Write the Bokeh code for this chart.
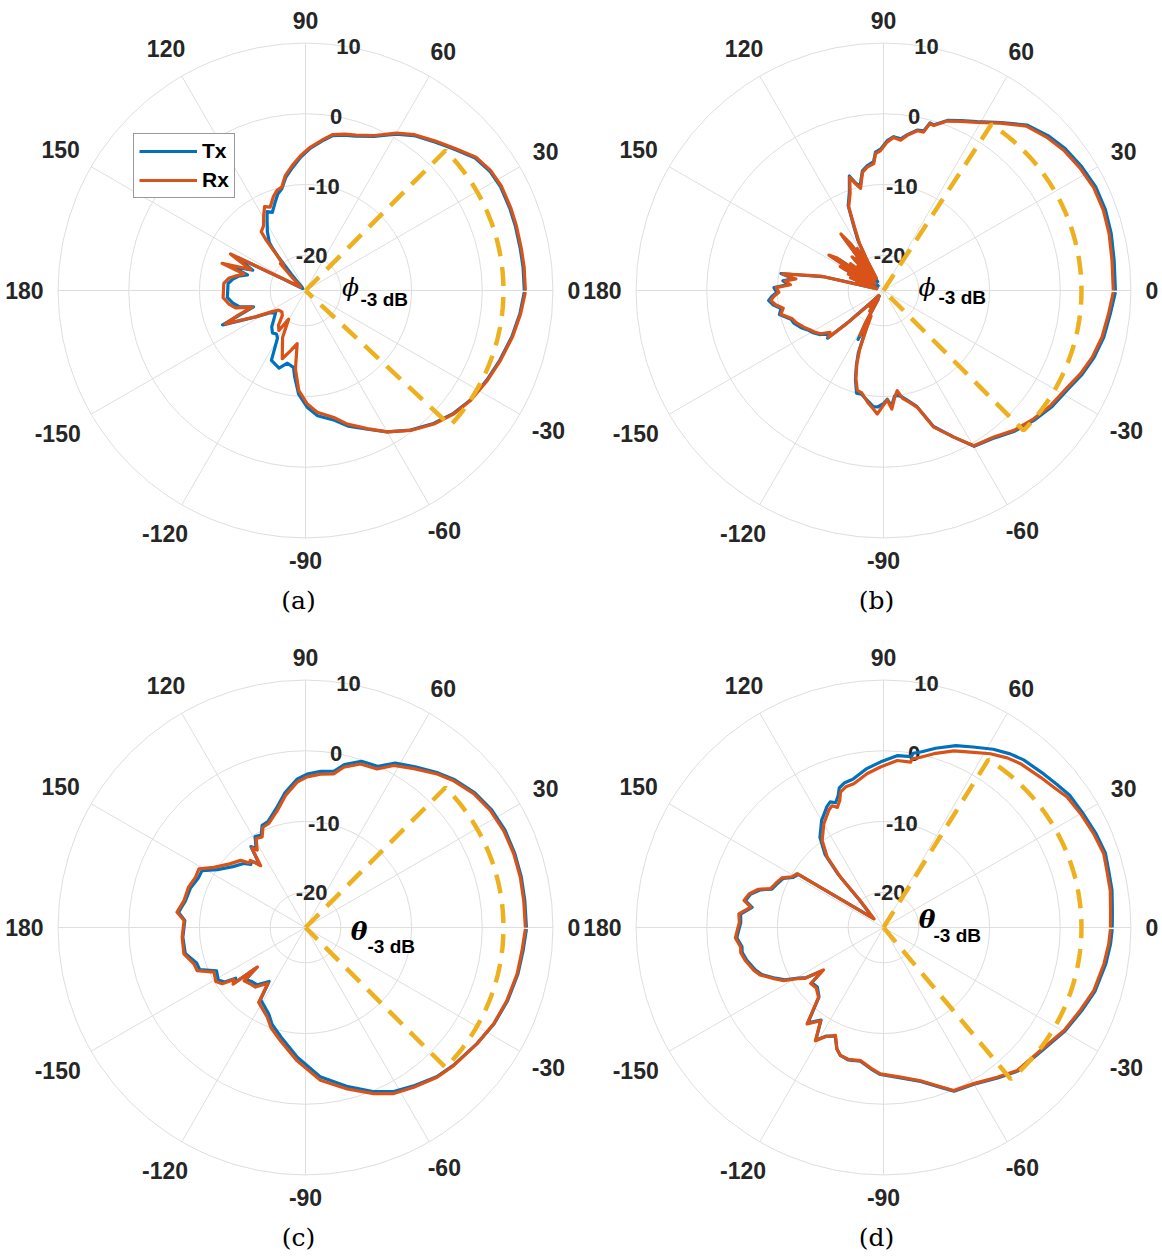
import numpy as np
from bokeh.plotting import figure
from bokeh.models import Range1d, Legend, LegendItem
from bokeh.layouts import gridplot
from bokeh.embed import file_html
from bokeh.resources import INLINE
from bokeh.core.properties import value

# ---------------- data (angle in degrees, gain in dB) ----------------
A_ANG = [0, 6, 11, 17, 22, 28, 33, 38, 43, 46,
         49, 55, 60, 66, 72, 76, 80, 83, 88, 92,
         96, 100, 103, 106, 109, 113, 116, 119, 123, 127,
         128, 129, 131, 133, 136, 145, 153, 154, 156, 159,
         162, 165, 168, 171, 175, 180, 185, 190, 194, 197.4,
         200, 202.6, 205, 208, 212, 216, 222, 227, 232, 236.3,
         239.5, 244, 251.2, 256, 261.1, 262.7, 266.2, 270.8, 275.5, 282.6,
         287.4, 294.1, 300, 306.9, 313.9, 320.3, 326.3, 333.7, 340.3, 347.3,
         353.8, 359.6]
A_RX = [6.1, 6.1, 6.1, 6.2, 6.3, 6.4, 6.2, 5.6, 4.3, 3.6,
        3.0, 1.9, 0.7, -1.0, -1.9, -2.2, -2.6, -3.4, -4.7, -5.9,
        -7.2, -8.5, -10.0, -10.3, -11.0, -12.2, -11.8, -12.8, -14.1, -14.6,
        -16.0, -18.6, -20.3, -19.8, -22.5, -24.2, -20.0, -13.2, -14.8, -16.7,
        -12.6, -16.0, -15.0, -14.0, -13.4, -13.4, -13.3, -14.0, -14.8, -17.1,
        -15.0, -12.7, -15.2, -17.2, -19.3, -20.3, -20.5, -20.2, -18.8, -18.2,
        -20.3, -17.6, -14.8, -16.2, -17.4, -13.8, -10.8, -9.0, -7.7, -6.6,
        -5.2, -3.6, -1.9, -0.25, 1.2, 2.3, 3.05, 3.7, 4.3, 5.0,
        5.6, 6.1]
A_TX = [5.95, 5.95, 5.95, 6.05, 6.15, 6.25, 6.05, 5.45, 4.15, 3.45,
        2.85, 1.75, 0.55, -1.15, -2.05, -2.35, -2.75, -3.55, -4.85, -6.1,
        -7.5, -8.8, -10.2, -10.8, -11.8, -13.0, -12.6, -13.8, -15.1, -16.5,
        -17.5, -19.0, -22.0, -23.5, -24.3, -24.5, -21.0, -14.5, -15.5, -17.0,
        -14.0, -16.5, -15.3, -14.6, -14.0, -14.0, -13.9, -14.6, -15.4, -17.3,
        -15.5, -12.3, -15.0, -17.0, -19.0, -19.8, -19.0, -18.0, -17.4, -17.6,
        -17.2, -14.0, -13.4, -14.4, -14.0, -12.8, -10.3, -8.5, -7.2, -6.2,
        -4.9, -3.5, -1.9, -0.3, 1.1, 2.2, 3.0, 3.6, 4.2, 4.9,
        5.5, 5.95]

B_ANG = [0, 7.5, 14, 20, 26, 32, 38, 43, 49, 55,
         61, 65.5, 69.4, 73, 74.5, 75.8, 78, 81.3, 83.5, 86.2,
         88.6, 91.2, 93.3, 94.4, 97.5, 100, 102.7, 104.5, 106.6, 109,
         112.6, 115, 117, 118.5, 120, 122, 123.5, 125, 127, 128.5,
         130, 131.5, 133, 135, 137, 139, 141, 143, 145, 147,
         149, 151, 153, 155, 157, 159, 161, 163, 165, 167,
         170.6, 172.5, 174.5, 176.5, 178.5, 181, 183, 185, 187.5, 190,
         193, 197.2, 200, 204.7, 208, 211, 214.5, 218, 220.5, 222,
         224, 227, 230, 233, 236, 239, 241, 242.5, 244, 246,
         248, 250, 252.5, 255.3, 258, 262, 265, 267.1, 270, 272,
         274, 276, 277.8, 280, 283, 286.1, 290.2, 295.6, 300.2, 307,
         313, 319.5, 325.5, 332.2, 337.1, 342.3, 348, 354.1, 359.6]
B_RX = [7.5, 7.6, 7.9, 8.1, 8.1, 7.75, 7.3, 6.7, 5.8, 3.9,
        2.2, 1.3, 0.6, -0.6, -0.5, -1.9, -1.9, -2.8, -3.6, -3.3,
        -4.0, -5.2, -5.6, -7.0, -7.4, -8.0, -10.2, -9.5, -8.3, -10.5,
        -12.2, -15.6, -17.5, -20.2, -23, -18, -23, -17, -15, -22,
        -19, -23, -18.5, -22, -20, -23.5, -19, -22, -17, -15.8,
        -23, -18, -23, -19.5, -23.5, -20, -24, -21, -24, -16,
        -10.5, -12.5, -11.0, -11.8, -9.8, -10.2, -9.5, -9.0, -9.6, -10.6,
        -10.1, -11.5, -11.8, -12.6, -13.2, -13.6, -14.2, -15.4, -14.8, -18,
        -22, -24, -22, -24, -21.5, -23.5, -19.5, -17.8, -21, -19,
        -16, -14, -12, -10.4, -10.2, -9.0, -8.2, -7.5, -8.8, -9.5,
        -8.2, -9.8, -10.7, -9.5, -8.8, -7.8, -4.4, -2.0, 0.4, 0.95,
        2.05, 2.95, 3.7, 4.4, 5.25, 6.0, 6.6, 7.0, 7.5]
B_TX = [7.8, 7.9, 8.2, 8.4, 8.4, 8.05, 7.6, 7.0, 6.0, 4.0,
        2.3, 1.4, 0.7, -0.5, -0.4, -1.7, -1.8, -2.7, -3.4, -3.2,
        -3.8, -5.0, -5.4, -6.7, -7.2, -7.8, -9.9, -9.3, -8.1, -10.2,
        -12.0, -15.2, -17.0, -19.8, -22.5, -18.5, -23.5, -17.5, -15.5, -22.5,
        -19.5, -23.5, -19, -22.5, -20.5, -24, -19.5, -22.5, -17.5, -16.3,
        -23.5, -18.5, -23.5, -20, -24, -20.5, -24, -21.5, -24, -16.5,
        -10.3, -12.2, -10.7, -11.5, -9.5, -9.9, -9.2, -8.7, -9.3, -10.3,
        -9.9, -11.3, -11.5, -12.3, -13.0, -13.4, -14.0, -15.2, -14.6, -18.5,
        -22.5, -24, -22.5, -24, -22, -23.5, -20, -17.2, -20.5, -18.5,
        -15.5, -13.8, -11.8, -10.0, -10.0, -9.2, -8.5, -8.5, -9.0, -9.6,
        -8.6, -10.0, -10.0, -9.7, -8.9, -7.9, -4.5, -2.0, 0.5, 1.1,
        2.2, 3.15, 3.95, 4.65, 5.5, 6.25, 6.85, 7.25, 7.8]

C_ANG = [0, 7, 13.2, 19.5, 26, 32.3, 38.5, 44.7, 49.4, 55.7,
         61.4, 65.7, 71.4, 76.6, 79.6, 84.4, 89.4, 93.3, 98.6, 103.6,
         109.5, 113, 115.6, 119, 122, 124, 126, 129.4, 131, 134,
         140, 146.7, 151.2, 155.4, 161, 167.5, 173.2, 176.7, 184.5, 192.2,
         198, 201.7, 206, 211, 214, 216, 218, 219.4, 221, 225,
         230, 236, 238, 242, 247, 251, 257.5, 266.4, 275.6, 284.5,
         292.3, 298, 304.1, 311.3, 317.1, 325.9, 332.9, 340.1, 347.7, 353.9,
         359.6]
C_RX = [6.1, 6.1, 6.2, 6.25, 6.2, 5.95, 5.4, 4.5, 3.6, 2.2,
        1.1, -0.4, -0.6, -1.7, -2.9, -3.2, -3.7, -4.4, -6.1, -8.0,
        -9.4, -9.6, -10.8, -10.6, -12.1, -11.4, -14.2, -12.7, -12.9, -11.8,
        -11.0, -9.5, -7.8, -7.9, -7.5, -7.4, -6.7, -7.8, -7.5, -7.4,
        -8.4, -8.5, -10.6, -10.2, -10.8, -12.5, -12.0, -16.2, -13.5, -13.8,
        -14.0, -15.5, -12.5, -12.0, -11.2, -10.0, -8.6, -6.1, -3.3, -1.4,
        0.4, 1.6, 2.3, 3.2, 3.65, 4.3, 4.9, 5.3, 5.65, 5.8,
        6.1]
C_TX = [6.25, 6.25, 6.35, 6.4, 6.4, 6.15, 5.6, 4.7, 3.8, 2.5,
        1.5, 0.0, -0.2, -1.3, -2.5, -2.8, -3.3, -4.0, -5.7, -7.6,
        -9.1, -9.3, -10.5, -10.3, -11.8, -11.2, -13.8, -12.9, -13.2, -12.4,
        -11.6, -10.1, -8.3, -8.3, -7.8, -7.6, -6.9, -7.9, -7.6, -7.6,
        -8.8, -8.9, -11.0, -10.6, -11.2, -12.8, -12.3, -16.0, -13.8, -14.2,
        -14.4, -15.8, -13.0, -12.5, -11.7, -10.5, -9.1, -6.6, -3.8, -1.8,
        0.1, 1.3, 2.1, 3.1, 3.6, 4.3, 4.95, 5.4, 5.75, 5.95,
        6.25]

D_ANG = [0, 4, 9.3, 14.3, 18.5, 24, 30, 35.4, 39.5, 43.7,
         50.1, 53.9, 58.4, 63.6, 68.3, 73.8, 77.7, 80.3, 80.7, 85.3,
         91.1, 96, 101.7, 105, 107.6, 109, 111, 113, 115, 120,
         125.2, 128.7, 130.5, 131, 138, 148.1, 151, 154, 158, 161,
         163, 166, 169, 171.3, 174.6, 178, 181.2, 184, 187.8, 190,
         193.4, 198.3, 201, 205.1, 208, 210.7, 213, 215.3, 217.6, 222,
         227.1, 231.6, 236, 239, 242, 246, 249, 251.4, 255, 260.2,
         265, 268.8, 276.5, 283.6, 289, 293.3, 300, 307.2, 313.1, 321.9,
         330.3, 337.2, 343.3, 350.6, 355.9, 359.6]
D_RX = [7.1, 7.2, 7.5, 7.6, 7.85, 7.55, 7.2, 6.85, 6.2, 5.75,
        5.2, 4.7, 3.85, 2.7, 1.9, 0.6, -0.35, -0.8, -1.3, -1.3,
        -2.3, -3.1, -4.25, -4.4, -4.9, -6.0, -6.8, -6.3, -6.7, -8.1,
        -9.95, -12.3, -15.6, -20.0, -23.2, -10.6, -10.2, -9.0, -8.5, -8.1,
        -6.5, -5.4, -4.9, -6.0, -4.45, -4.6, -4.3, -4.0, -4.6, -4.5,
        -4.9, -5.7, -6.3, -7.9, -9.0, -10.8, -11.8, -14.6, -12.0, -12.2,
        -11.5, -7.6, -9.1, -6.3, -7.5, -8.3, -6.6, -5.9, -5.7, -5.9,
        -5.0, -4.3, -3.7, -2.7, -1.3, 0.1, 0.5, 1.6, 2.7, 3.2,
        4.4, 5.2, 6.05, 6.6, 6.95, 7.1]
D_TX = [7.35, 7.45, 7.75, 7.85, 8.1, 7.85, 7.5, 7.3, 6.8, 6.4,
        5.9, 5.4, 4.6, 3.5, 2.7, 1.4, 0.45, 0.0, -0.5, -0.6,
        -1.6, -2.4, -3.6, -3.8, -4.3, -5.3, -6.1, -5.7, -6.1, -7.5,
        -9.4, -11.8, -15.2, -19.5, -23.0, -10.8, -10.4, -9.2, -8.7, -8.3,
        -6.8, -5.6, -5.1, -6.2, -4.7, -4.8, -4.5, -4.2, -4.8, -4.7,
        -5.1, -5.9, -6.5, -8.1, -9.2, -11.0, -12.0, -14.4, -12.2, -12.4,
        -11.6, -7.8, -9.2, -6.4, -7.6, -8.2, -6.6, -5.9, -5.6, -5.8,
        -4.9, -4.2, -3.6, -2.6, -1.2, 0.2, 0.6, 1.7, 2.8, 3.35,
        4.55, 5.4, 6.25, 6.85, 7.2, 7.35]

# -3 dB contour level and beam-edge angles for each panel
HALF_POWER_LEVEL = 3.0
SECTORS = {"a": (45, -43), "b": (57, -45), "c": (45, -45), "d": (58, -50)}

# axes
RMIN, RMAX = -25, 10
R_TICKS = [-20, -10, 0, 10]
R_TICK_LABELS = ["-20", "-10", "0", "10"]
R_LABEL_ANGLE = 80
THETA_TICKS = [0, 30, 60, 90, 120, 150, 180, 210, 240, 270, 300, 330]
THETA_TICK_LABELS = ["0", "30", "60", "90", "120", "150", "180",
                     "-150", "-120", "-90", "-60", "-30"]

# ---------------- style / layout ----------------
PX = 7.07           # pixels per dB
W, H = 581, 628
GRID = "#DEDEDE"
TXC, RXC, YEL, TXT = "#0072BD", "#D95319", "#EDB120", "#262626"
SANS = "Liberation Sans"
SERIF = "DejaVu Serif"


def polar(ang, db):
    a = np.radians(np.asarray(ang, dtype=float))
    r = np.clip(np.asarray(db, dtype=float) - RMIN, 0, None)
    return r * np.cos(a), r * np.sin(a)


def panel(cx, cy, ang, tx, rx, sector, sym, sym_style, sym_off, sub_off, caption, legend=False):
    p = figure(width=W, height=H, output_backend="svg", toolbar_location=None,
               x_range=Range1d(-cx / PX, (W - cx) / PX),
               y_range=Range1d(-(H - cy) / PX, cy / PX),
               x_axis_type=None, y_axis_type=None, min_border=0)
    p.outline_line_color = None
    p.grid.visible = False
    R = RMAX - RMIN

    # grid
    p.circle(x=[0] * len(R_TICKS), y=[0] * len(R_TICKS), radius=[t - RMIN for t in R_TICKS],
             fill_color=None, line_color=GRID, line_width=1)
    th = np.radians(THETA_TICKS)
    p.segment(x0=[0] * len(th), y0=[0] * len(th), x1=R * np.cos(th), y1=R * np.sin(th),
              line_color=GRID, line_width=1)

    # theta tick labels outside the circle
    lx, ly = [], []
    for t, lab in zip(THETA_TICKS, THETA_TICK_LABELS):
        w = 12.8 * sum(c.isdigit() for c in lab) + 7.6 * lab.count("-")
        c, s = np.cos(np.radians(t)), np.sin(np.radians(t))
        rp = R * PX + 14.5 + abs(c) * w / 2 + abs(s) * 8.5
        lx.append(rp * c / PX)
        ly.append(rp * s / PX)
    p.text(x=lx, y=ly, text=THETA_TICK_LABELS, text_font=value(SANS), text_font_style="bold",
           text_font_size="23px", text_color=TXT, text_align="center", text_baseline="middle")

    # radial tick labels
    ra = np.radians(R_LABEL_ANGLE)
    p.text(x=[(t - RMIN) * np.cos(ra) for t in R_TICKS], y=[(t - RMIN) * np.sin(ra) for t in R_TICKS],
           text=R_TICK_LABELS, text_font=value(SANS), text_font_style="bold",
           text_font_size="22px", text_color=TXT, text_align="center", text_baseline="middle")

    # patterns
    tx_r = p.line(*polar(ang, tx), line_color=TXC, line_width=3.2, line_join="round")
    rx_r = p.line(*polar(ang, rx), line_color=RXC, line_width=3.2, line_join="round")

    # -3 dB beam sector
    up, lo = sector
    arc = np.radians(np.linspace(up, lo, 121))
    rr = HALF_POWER_LEVEL - RMIN
    sx = np.concatenate([[0], rr * np.cos(arc), [0]])
    sy = np.concatenate([[0], rr * np.sin(arc), [0]])
    p.line(sx, sy, line_color=YEL, line_width=4.5, line_dash="19 11", line_cap="butt")

    # symbol annotation
    p.text(x=[sym_off[0] / PX], y=[-sym_off[1] / PX], text=[sym], text_font=value(SERIF),
           text_font_style=sym_style, text_font_size="25px", text_color="black",
           text_align="center", text_baseline="middle")
    p.text(x=[sub_off[0] / PX], y=[-sub_off[1] / PX], text=["-3 dB"], text_font=value(SANS),
           text_font_style="bold", text_font_size="19px", text_color="black",
           text_align="left", text_baseline="middle")

    # caption
    p.text(x=[-7 / PX], y=[-310 / PX], text=[caption], text_font=value(SERIF),
           text_font_size="25px", text_color="black", text_align="center", text_baseline="middle")

    if legend:
        lg = Legend(items=[LegendItem(label="Tx", renderers=[tx_r]),
                           LegendItem(label="Rx", renderers=[rx_r])],
                    location=(133, 430), orientation="vertical",
                    label_text_font=SANS, label_text_font_style="bold",
                    label_text_font_size="21px", label_text_color="black",
                    glyph_width=58, glyph_height=20, label_height=20,
                    label_standoff=5, padding=5, spacing=5, margin=0,
                    border_line_color="#333333", border_line_width=1,
                    background_fill_color="white", background_fill_alpha=1)
        p.add_layout(lg)
    return p


pa = panel(305, 290, A_ANG, A_TX, A_RX, SECTORS["a"], "\u03d5", "italic", (45, -3), (55, 8.5), "(a)", legend=True)
pb = panel(302, 290, B_ANG, B_TX, B_RX, SECTORS["b"], "\u03d5", "italic", (43.5, -3), (55, 6.5), "(b)")
pc = panel(305, 299, C_ANG, C_TX, C_RX, SECTORS["c"], "\u03b8", "bold italic", (53.5, 4), (62, 18.5), "(c)")
pd = panel(302, 299, D_ANG, D_TX, D_RX, SECTORS["d"], "\u03b8", "bold italic", (43.5, -8.5), (50, 7.5), "(d)")

grid = gridplot([[pa, pb], [pc, pd]], toolbar_location=None)
open("out.html", "w").write(file_html(grid, INLINE))
